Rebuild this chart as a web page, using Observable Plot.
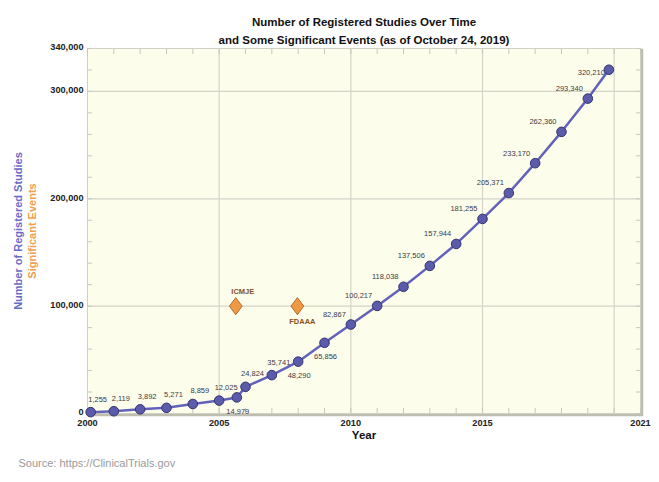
<!DOCTYPE html>
<html>
<head>
<meta charset="utf-8">
<script src="https://cdn.jsdelivr.net/npm/d3@7"></script>
<script src="https://cdn.jsdelivr.net/npm/@observablehq/plot@0.6"></script>
<style>
  html, body { margin: 0; padding: 0; background: #fff; }
  svg { display: block; }
</style>
</head>
<body>
<div id="chart"></div>
<script>
// ---- Data ----
const years = [2000.12, 2001, 2002, 2003, 2004, 2005, 2005.67, 2006, 2007, 2008, 2009, 2010,
               2011, 2012, 2013, 2014, 2015, 2016, 2017, 2018, 2019, 2019.8];
const studies = [1255, 2119, 3892, 5271, 8859, 12025, 14979, 24824, 35741, 48290, 65856, 82867,
                 100217, 118038, 137506, 157944, 181255, 205371, 233170, 262360, 293340, 320210];
const eventNames = ["ICMJE", "FDAAA"];
const eventYears = [2005.63, 2007.97];
const eventValues = [100000, 100000];
const xTicks = [2000, 2005, 2010, 2015, 2021];
const xGrid = [2005, 2010, 2015, 2020];
const yTicks = [0, 100000, 200000, 300000, 340000];
const yGrid = [100000, 200000, 300000];
const titleLines = ["Number of Registered Studies Over Time",
                    "and Some Significant Events (as of October 24, 2019)"];
const yTitle1 = "Number of Registered Studies";
const yTitle2 = "Significant Events";
const xTitle = "Year";
const source = "Source: https://ClinicalTrials.gov";

const data = years.map((y, i) => ({year: y, value: studies[i], i}));
const events = eventNames.map((n, i) => ({name: n, year: eventYears[i], value: eventValues[i]}));
const minorX = d3.range(2000, 2022);
const minorY = d3.range(0, 340001, 20000);

const below = new Set([6, 9, 10]);
const aboveMid = data.filter(d => d.i <= 10 && !below.has(d.i));
const belowLab = data.filter(d => below.has(d.i));
const leftLab = data.filter(d => d.i >= 11 && d.i < 21);
const lastLab = data.filter(d => d.i === 21);

const fmt = d3.format(",");
const F = "Liberation Sans, Arial, Helvetica, sans-serif";

const diamond = {
  draw(context, size) {
    const r = Math.sqrt(size / Math.PI);
    const w = r * 0.75;
    context.moveTo(0, -r);
    context.lineTo(w, 0);
    context.lineTo(0, r);
    context.lineTo(-w, 0);
    context.closePath();
  }
};

const lab = {fontFamily: F, fontSize: 7.5, fill: "#3a3a48", text: d => fmt(d.value), x: "year", y: "value"};

const chart = Plot.plot({
  width: 659,
  height: 482,
  marginLeft: 87,
  marginRight: 19,
  marginTop: 48,
  marginBottom: 69,
  style: {fontFamily: F, background: "#fff", overflow: "visible"},
  x: {domain: [2000, 2021]},
  y: {domain: [0, 340000]},
  marks: [
    Plot.frame({fill: "#fdfdec", stroke: "#bdbdb0", strokeWidth: 2.5, dx: 1.5, dy: 1.5}),
    Plot.frame({fill: "#fdfdec", stroke: "#d0d0c4"}),
    Plot.gridX(xGrid, {stroke: "#d4d4c8", strokeOpacity: 1, strokeWidth: 1.2}),
    Plot.gridY(yGrid, {stroke: "#d4d4c8", strokeOpacity: 1, strokeWidth: 1.2}),
    // minor ticks (inside)
    Plot.axisX(minorX, {anchor: "bottom", tickSize: -5, text: null, stroke: "#c8c8bc", label: null}),
    Plot.axisX(minorX, {anchor: "top", tickSize: -5, text: null, stroke: "#c8c8bc", label: null}),
    Plot.axisY(minorY, {anchor: "left", tickSize: -5, text: null, stroke: "#c8c8bc", label: null}),
    Plot.axisY(minorY, {anchor: "right", tickSize: -5, text: null, stroke: "#c8c8bc", label: null}),
    // labelled ticks
    Plot.axisX(xTicks, {anchor: "bottom", tickSize: 0, tickPadding: 6, tickFormat: "d", label: null,
      fontWeight: "bold", fontSize: 9.2, fill: "#222", letterSpacing: 0.3}),
    Plot.axisY(yTicks, {anchor: "left", tickSize: 0, tickPadding: 4, tickFormat: fmt, label: null,
      fontWeight: "bold", fontSize: 9.2, fill: "#222", letterSpacing: 0.3, dy: -1}),
    // series
    Plot.line(data, {x: "year", y: "value", stroke: "#6262bb", strokeWidth: 2.5}),
    Plot.dot(data, {x: "year", y: "value", r: 4.8, fill: "#5b5bab", stroke: "#35356e", strokeWidth: 1}),
    // value labels
    Plot.text(aboveMid, {...lab, textAnchor: "middle", dx: 7, dy: -13}),
    Plot.text(belowLab, {...lab, textAnchor: "middle", dx: 1, dy: 14}),
    Plot.text(leftLab, {...lab, textAnchor: "end", dx: -5, dy: -10}),
    Plot.text(lastLab, {...lab, textAnchor: "end", dx: -4, dy: 3}),
    // events
    Plot.dot(events, {x: "year", y: "value", symbol: diamond, r: 8.5, fill: "#ee9a45", stroke: "#b86a25", strokeWidth: 1}),
    Plot.text(events.filter(d => d.name === "ICMJE"), {x: "year", y: "value", text: "name", dx: 7, dy: -15,
      fontFamily: F, fontSize: 7.5, fontWeight: "bold", fill: "#8a5020"}),
    Plot.text(events.filter(d => d.name === "FDAAA"), {x: "year", y: "value", text: "name", dx: 5, dy: 15,
      fontFamily: F, fontSize: 7.5, fontWeight: "bold", fill: "#8a5020"}),
    // titles
    Plot.text([titleLines[0]], {frameAnchor: "top", dy: -31, text: d => d, fontFamily: F, fontSize: 11.5,
      fontWeight: "bold", fill: "#111", letterSpacing: -0.2}),
    Plot.text([titleLines[1]], {frameAnchor: "top", dy: -13, text: d => d, fontFamily: F, fontSize: 11.5,
      fontWeight: "bold", fill: "#111", letterSpacing: -0.2}),
    Plot.text([yTitle1], {frameAnchor: "left", dx: -69, rotate: -90, text: d => d, fontFamily: F,
      fontSize: 11, fontWeight: "bold", fill: "#6a6ac8", textAnchor: "middle"}),
    Plot.text([yTitle2], {frameAnchor: "left", dx: -55, rotate: -90, text: d => d, fontFamily: F,
      fontSize: 11, fontWeight: "bold", fill: "#f0a050", textAnchor: "middle"}),
    Plot.text([xTitle], {frameAnchor: "bottom", dy: 25, text: d => d, fontFamily: F, fontSize: 11.5,
      fontWeight: "bold", fill: "#111"}),
    Plot.text([source], {frameAnchor: "bottom-left", dx: -69, dy: 53, text: d => d, fontFamily: F,
      fontSize: 11, fill: "#9a9a9a", textAnchor: "start"})
  ]
});
document.getElementById("chart").appendChild(chart);
</script>
</body>
</html>
